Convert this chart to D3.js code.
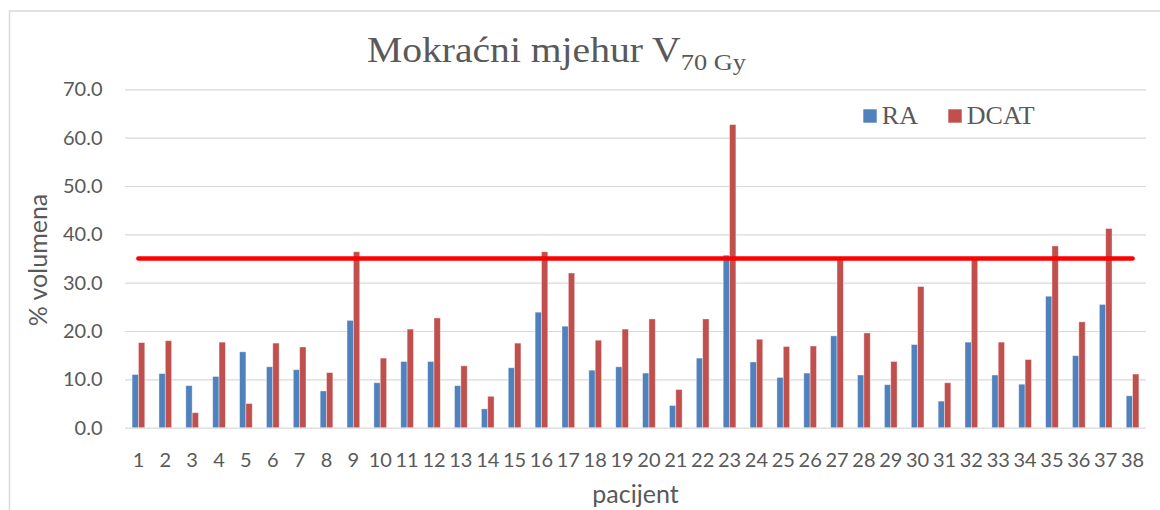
<!DOCTYPE html>
<html>
<head>
<meta charset="utf-8">
<script src="https://cdn.jsdelivr.net/npm/d3@7"></script>
<style>
  body { margin: 0; background: #fff; }
</style>
</head>
<body>
<div id="container"></div>
<script>
let w = 1160;
let h = 510;

// data
let patients = d3.range(1, 39).map(String);
let raValues = [11.0, 11.2, 8.7, 10.6, 15.7, 12.6, 12.0, 7.6, 22.2, 9.3,
                13.7, 13.7, 8.7, 3.9, 12.4, 23.9, 21.0, 11.9, 12.6, 11.3,
                4.6, 14.4, 35.7, 13.6, 10.4, 11.3, 19.0, 10.9, 8.9, 17.2,
                5.5, 17.7, 10.9, 9.0, 27.2, 14.9, 25.5, 6.6];
let dcatValues = [17.6, 18.0, 3.1, 17.7, 5.0, 17.5, 16.7, 11.4, 36.4, 14.4,
                  20.4, 22.7, 12.8, 6.5, 17.5, 36.4, 32.0, 18.1, 20.4, 22.5,
                  7.9, 22.5, 62.7, 18.3, 16.8, 16.9, 34.8, 19.6, 13.7, 29.2,
                  9.3, 34.8, 17.7, 14.1, 37.6, 21.9, 41.2, 11.1];
let seriesNames = ["RA", "DCAT"];
let seriesColors = ["#4F81BD", "#C0504D"];
let threshold = 35;
let yTicks = [0, 10, 20, 30, 40, 50, 60, 70];

let plotLeft = 125, plotRight = 1146, plotTop = 89.3, plotBottom = 427.7;

let viz = d3.select("#container").append("svg")
    .attr("width", w)
    .attr("height", h)
    .style("display", "block")
    .style("background-color", "white");

// chart frame (runs off the right and bottom edge like the reference)
viz.append("rect")
  .attr("x", 9.5).attr("y", 11)
  .attr("width", 1300).attr("height", 600)
  .attr("fill", "none")
  .attr("stroke", "#d9d9d9")
  .attr("stroke-width", 1.5);

let x = d3.scaleBand()
  .domain(patients)
  .range([plotLeft, plotRight])
  .paddingInner(0.527)
  .paddingOuter(0.2635);

let xInner = d3.scaleBand()
  .domain(seriesNames)
  .range([0, x.bandwidth()]);

let y = d3.scaleLinear()
  .domain([0, 70])
  .range([plotBottom, plotTop]);

// y axis + gridlines
let yAxis = viz.append("g")
  .attr("transform", "translate(" + plotLeft + ",0)")
  .call(d3.axisLeft(y).tickValues(yTicks).tickFormat(d3.format(".1f"))
    .tickSize(-(plotRight - plotLeft)).tickPadding(22.5));
yAxis.select(".domain").remove();
yAxis.selectAll("line").attr("stroke", "#d9d9d9").attr("stroke-width", 1.2);
yAxis.selectAll("text")
  .attr("fill", "#595959")
  .style("font-family", "Lato, 'Open Sans', sans-serif")
  .style("font-size", "20px");

// bars
let groups = viz.append("g").selectAll("g")
  .data(patients)
  .enter()
  .append("g")
  .attr("transform", function(d){ return "translate(" + x(d) + ",0)"; });

groups.selectAll("rect")
  .data(function(d, i){
    return [
      {key: "RA", value: raValues[i]},
      {key: "DCAT", value: dcatValues[i]}
    ];
  })
  .enter()
  .append("rect")
  .attr("x", function(d){ return xInner(d.key); })
  .attr("y", function(d){ return y(d.value); })
  .attr("width", xInner.bandwidth())
  .attr("height", function(d){ return y(0) - y(d.value); })
  .attr("fill", function(d, i){ return seriesColors[i]; })
  .attr("stroke", "white")
  .attr("stroke-opacity", 0.5)
  .attr("stroke-width", 0.8);

// x axis labels
let xAxis = viz.append("g")
  .attr("transform", "translate(0," + plotBottom + ")")
  .call(d3.axisBottom(x).tickSize(0).tickPadding(25));
xAxis.select(".domain").remove();
xAxis.selectAll("text")
  .attr("fill", "#595959")
  .style("font-family", "Lato, 'Open Sans', sans-serif")
  .style("font-size", "20px");

// threshold line
viz.append("line")
  .attr("x1", x(patients[0]) + x.bandwidth() / 2)
  .attr("x2", x(patients[patients.length - 1]) + x.bandwidth() / 2)
  .attr("y1", y(threshold))
  .attr("y2", y(threshold))
  .attr("stroke", "#FF0000")
  .attr("stroke-width", 4.6)
  .attr("stroke-linecap", "round");

// title
let title = viz.append("text")
  .attr("transform", "translate(367,61.5) scale(1.1,1)")
  .attr("fill", "#595959")
  .style("font-family", "'Liberation Serif', 'Times New Roman', serif")
  .style("font-size", "36px");
title.append("tspan").text("Mokraćni mjehur V");
title.append("tspan")
  .attr("dy", 8.5)
  .style("font-size", "24px")
  .text("70 Gy");

// axis titles
viz.append("text")
  .attr("transform", "translate(46.5,260) rotate(-90)")
  .attr("text-anchor", "middle")
  .attr("fill", "#595959")
  .style("font-family", "Lato, 'Open Sans', sans-serif")
  .style("font-size", "25px")
  .text("% volumena");

viz.append("text")
  .attr("x", (plotLeft + plotRight) / 2)
  .attr("y", 503)
  .attr("text-anchor", "middle")
  .attr("fill", "#595959")
  .style("font-family", "Lato, 'Open Sans', sans-serif")
  .style("font-size", "25px")
  .text("pacijent");

// legend
let legendX = [863.3, 948.3];
let legend = viz.append("g").selectAll("g")
  .data(seriesNames)
  .enter()
  .append("g")
  .attr("transform", function(d, i){ return "translate(" + legendX[i] + ",109.3)"; });
legend.append("rect")
  .attr("width", 13.4)
  .attr("height", 13.4)
  .attr("fill", function(d, i){ return seriesColors[i]; });
legend.append("text")
  .attr("x", 18.5)
  .attr("y", 15)
  .attr("fill", "#595959")
  .style("font-family", "'Liberation Serif', 'Times New Roman', serif")
  .style("font-size", "26px")
  .text(function(d){ return d; });
</script>
</body>
</html>
